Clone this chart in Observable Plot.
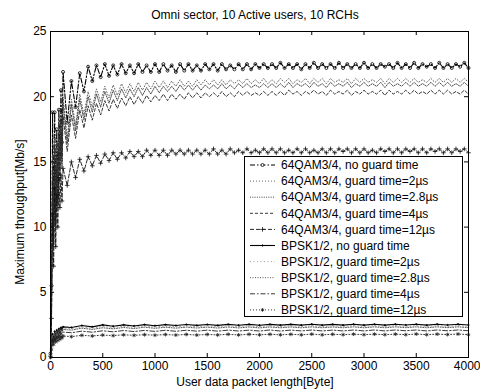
<!DOCTYPE html>
<html><head><meta charset="utf-8">
<script src="https://cdn.jsdelivr.net/npm/d3@7"></script>
<script src="https://cdn.jsdelivr.net/npm/@observablehq/plot@0.6"></script>
<style>
body{margin:0;background:#fff;}
#wrap{position:relative;width:480px;height:391px;font-family:"Liberation Sans",Arial,sans-serif;color:#000;overflow:hidden;}
#wrap svg{position:absolute;left:0;top:0;}
.t{position:absolute;white-space:nowrap;font-size:12px;line-height:1;}
</style></head><body><div id="wrap"></div>
<script>
const title = "Omni sector, 10 Active users, 10 RCHs";
const xLabel = "User data packet length[Byte]";
const yLabel = "Maximum throughput[Mb/s]";
const xTicks = [0,500,1000,1500,2000,2500,3000,3500,4000];
const yTicks = [0,5,10,15,20,25];

const xQ = [0,10,20,30,40,50,60,70,80,90,100,110,120,
160,200,240,280,320,360,400,440,480,520,
560,600,640,680,720,760,800,840,880,920,
960,1000,1040,1080,1120,1160,1200,1240,1280,1320,
1360,1400,1440,1480,1520,1560,1600,1640,1680,1720,
1760,1800,1840,1880,1920,1960,2000,2040,2080,2120,
2160,2200,2240,2280,2320,2360,2400,2440,2480,2520,
2560,2600,2640,2680,2720,2760,2800,2840,2880,2920,
2960,3000,3040,3080,3120,3160,3200,3240,3280,3320,
3360,3400,3440,3480,3520,3560,3600,3640,3680,3720,
3760,3800,3840,3880,3920,3960,4000];

const q0 = [0.3,5.5,18.8,10.5,18.8,12.0,17.5,13.5,19.0,15.5,20.5,16.5,21.9,
18.0,21.2,19.2,21.8,20.4,22.3,21.2,22.4,21.5,22.5,
21.6,22.4,21.7,22.5,21.8,22.4,21.8,22.5,21.9,22.4,
21.9,22.5,21.9,22.5,22.0,22.4,21.9,22.5,22.0,22.5,
22.0,22.4,22.0,22.5,22.1,22.5,22.0,22.5,22.1,22.4,
22.1,22.5,22.1,22.5,22.1,22.5,22.2,22.5,22.2,22.5,
22.2,22.6,22.2,22.5,22.2,22.5,22.1,22.5,22.2,22.6,
22.2,22.5,22.2,22.5,22.2,22.6,22.2,22.5,22.2,22.5,
22.2,22.6,22.2,22.5,22.2,22.5,22.3,22.5,22.2,22.6,
22.2,22.5,22.2,22.6,22.2,22.5,22.3,22.5,22.2,22.6,
22.2,22.5,22.2,22.5,22.3,22.6,22.2];

const q2 = [0.2,4.5,15.5,9.5,17.0,11.0,16.5,12.5,18.0,14.5,19.0,15.5,20.0,
16.8,19.8,17.8,20.2,18.6,20.4,19.2,20.6,19.6,20.8,
19.9,20.9,20.1,21.0,20.3,21.0,20.4,21.1,20.5,21.1,
20.6,21.2,20.7,21.2,20.7,21.2,20.8,21.3,20.8,21.2,
20.8,21.3,20.9,21.3,20.9,21.3,20.9,21.3,20.9,21.3,
21.0,21.3,21.0,21.4,21.0,21.3,21.0,21.4,21.0,21.3,
21.0,21.4,21.1,21.4,21.0,21.3,21.1,21.4,21.0,21.4,
21.1,21.4,21.0,21.4,21.1,21.3,21.1,21.4,21.0,21.4,
21.1,21.4,21.1,21.3,21.1,21.4,21.0,21.4,21.1,21.4,
21.1,21.4,21.1,21.4,21.1,21.3,21.1,21.4,21.1,21.4,
21.1,21.4,21.1,21.4,21.1,21.4,21.1];

const q28 = [0.2,4.0,14.5,9.0,16.0,10.5,15.5,12.0,17.0,14.0,18.2,15.0,19.5,
16.4,19.4,17.4,19.8,18.2,20.0,18.8,20.2,19.2,20.4,
19.5,20.5,19.7,20.6,19.9,20.6,20.0,20.7,20.1,20.7,
20.2,20.8,20.3,20.8,20.4,20.8,20.4,20.9,20.5,20.9,
20.5,20.9,20.5,20.9,20.6,20.9,20.6,21.0,20.6,20.9,
20.6,21.0,20.7,21.0,20.7,20.9,20.7,21.0,20.7,21.0,
20.7,21.0,20.7,21.1,20.7,21.0,20.8,21.0,20.7,21.1,
20.8,21.0,20.7,21.1,20.8,21.0,20.8,21.1,20.7,21.0,
20.8,21.1,20.8,21.0,20.8,21.1,20.7,21.1,20.8,21.0,
20.8,21.1,20.8,21.1,20.8,21.0,20.8,21.1,20.8,21.1,
20.8,21.1,20.8,21.0,20.8,21.1,20.8];

const q4 = [0.1,3.5,13.5,8.5,15.0,10.0,14.5,11.5,16.0,13.5,17.2,14.5,18.5,
15.8,18.6,16.8,19.0,17.6,19.3,18.2,19.5,18.6,19.7,
18.9,19.8,19.1,19.9,19.3,20.0,19.4,20.0,19.5,20.1,
19.6,20.1,19.7,20.2,19.7,20.2,19.8,20.2,19.8,20.3,
19.9,20.3,19.9,20.3,20.0,20.3,20.0,20.4,20.0,20.3,
20.0,20.4,20.1,20.4,20.1,20.3,20.1,20.4,20.1,20.4,
20.1,20.4,20.1,20.5,20.2,20.4,20.1,20.4,20.2,20.5,
20.2,20.4,20.1,20.5,20.2,20.4,20.2,20.5,20.1,20.4,
20.2,20.5,20.2,20.4,20.2,20.5,20.1,20.5,20.2,20.4,
20.2,20.5,20.2,20.5,20.2,20.4,20.2,20.5,20.2,20.5,
20.2,20.5,20.2,20.4,20.2,20.5,20.2];

const q12 = [0.1,3.0,11.0,7.0,13.0,8.5,12.5,10.0,13.8,11.5,14.0,12.0,14.5,
13.2,15.0,13.8,15.2,14.3,15.4,14.7,15.5,14.9,15.6,
15.1,15.7,15.2,15.7,15.3,15.8,15.4,15.8,15.4,15.9,
15.5,15.9,15.5,15.9,15.5,15.9,15.6,15.9,15.6,15.9,
15.6,15.9,15.6,15.9,15.6,16.0,15.6,15.9,15.6,16.0,
15.7,15.9,15.7,16.0,15.7,15.9,15.7,16.0,15.7,16.0,
15.7,16.0,15.7,15.9,15.7,16.0,15.7,16.0,15.7,15.9,
15.7,16.0,15.7,16.0,15.7,16.0,15.8,16.0,15.7,16.0,
15.7,16.0,15.7,15.9,15.7,16.0,15.8,16.0,15.7,16.0,
15.7,16.0,15.8,16.0,15.7,16.0,15.7,16.0,15.8,16.0,
15.7,16.0,15.7,16.0,15.8,16.0,15.7];

const xB = [0,10,20,30,40,50,60,70,80,90,100,110,120,
200,300,400,500,600,700,800,900,1000,1100,
1200,1300,1400,1500,1600,1700,1800,1900,2000,2100,
2200,2300,2400,2500,2600,2700,2800,2900,3000,3100,
3200,3300,3400,3500,3600,3700,3800,3900,4000];

const b0 = [0.0,0.9,1.8,1.3,2.0,1.6,2.1,1.8,2.2,1.9,2.3,2.1,2.35,
2.3,2.45,2.35,2.5,2.4,2.5,2.42,2.52,2.44,2.52,
2.45,2.53,2.46,2.53,2.46,2.54,2.47,2.54,2.47,2.54,
2.48,2.54,2.48,2.55,2.48,2.54,2.48,2.55,2.48,2.55,
2.48,2.55,2.49,2.55,2.48,2.55,2.49,2.55,2.49];

const b2 = [0.0,0.8,1.7,1.2,1.9,1.5,2.0,1.7,2.1,1.8,2.2,2.0,2.25,
2.2,2.35,2.25,2.38,2.3,2.4,2.32,2.42,2.34,2.42,
2.35,2.43,2.36,2.43,2.36,2.44,2.37,2.44,2.37,2.44,
2.38,2.44,2.38,2.45,2.38,2.44,2.38,2.45,2.38,2.45,
2.38,2.45,2.39,2.45,2.38,2.45,2.39,2.45,2.39];

const b28 = [0.0,0.8,1.6,1.2,1.8,1.4,1.9,1.6,2.0,1.7,2.1,1.9,2.15,
2.1,2.25,2.15,2.28,2.2,2.3,2.22,2.32,2.24,2.32,
2.25,2.33,2.26,2.33,2.26,2.34,2.27,2.34,2.27,2.34,
2.28,2.34,2.28,2.35,2.28,2.34,2.28,2.35,2.28,2.35,
2.28,2.35,2.29,2.35,2.28,2.35,2.29,2.35,2.29];

const b4 = [0.0,0.7,1.5,1.1,1.6,1.3,1.7,1.5,1.8,1.6,1.9,1.75,1.95,
1.9,2.02,1.94,2.05,1.97,2.07,1.99,2.08,2.0,2.09,
2.01,2.09,2.02,2.1,2.02,2.1,2.03,2.1,2.03,2.11,
2.03,2.1,2.04,2.11,2.04,2.1,2.04,2.11,2.04,2.11,
2.04,2.11,2.05,2.11,2.04,2.11,2.05,2.11,2.05];

const b12 = [0.0,0.6,1.3,1.0,1.4,1.2,1.5,1.3,1.6,1.4,1.6,1.5,1.65,
1.6,1.7,1.65,1.72,1.68,1.74,1.7,1.75,1.71,1.76,
1.72,1.77,1.72,1.77,1.73,1.78,1.73,1.78,1.74,1.78,
1.74,1.78,1.74,1.79,1.74,1.78,1.75,1.79,1.75,1.79,
1.75,1.79,1.75,1.8,1.75,1.79,1.76,1.8,1.75];

const names = [
 "64QAM3/4, no guard time","64QAM3/4, guard time=2µs","64QAM3/4, guard time=2.8µs",
 "64QAM3/4, guard time=4µs","64QAM3/4, guard time=12µs",
 "BPSK1/2, no guard time","BPSK1/2, guard time=2µs","BPSK1/2, guard time=2.8µs",
 "BPSK1/2, guard time=4µs","BPSK1/2, guard time=12µs"];

const xs = [xQ,xQ,xQ,xQ,xQ,xB,xB,xB,xB,xB];
const ys = [q0,q2,q28,q4,q12,b0,b2,b28,b4,b12];
const styles = [
 {dash:"5,2,1.5,2", w:1.1, c:"#000", sym:"circle", r:1.5},
 {dash:"1,2", w:0.9, c:"#555"},
 {dash:"1,1.3", w:0.9, c:"#333"},
 {dash:"3,2", w:0.9, c:"#222"},
 {dash:"4,2", w:0.9, c:"#111", sym:"plus", r:1.6},
 {dash:null, w:1.1, c:"#000", sym:"circle", r:0.7, fill:"#000"},
 {dash:"1,2.5", w:0.8, c:"#888"},
 {dash:"1,1.5", w:0.9, c:"#444"},
 {dash:"5,2,1.5,2", w:0.9, c:"#222"},
 {dash:"1,2", w:0.9, c:"#222", sym:"asterisk", r:1.8}
];

const rows = [];
ys.forEach((arr,i)=>arr.forEach((v,j)=>rows.push({k:i, x:xs[i][j], y:v})));

const marks = [];
styles.forEach((s,i)=>{
  const d = rows.filter(r=>r.k===i);
  marks.push(Plot.line(d,{x:"x",y:"y",stroke:s.c,strokeWidth:s.w,strokeDasharray:s.dash||undefined}));
  if (s.sym) marks.push(Plot.dot(d,{x:"x",y:"y",symbol:s.sym,r:s.r,stroke:s.c,strokeWidth:0.8,fill:s.fill||"none"}));
});

const W=480,H=391,mL=50,mR=12,mT=31,mB=34;
const fw=W-mL-mR, fh=H-mT-mB;
const lastTick = xTicks.slice(-1);
const innerTicks = xTicks.slice(0,-1);
const plot = Plot.plot({
  width:W,height:H,marginLeft:mL,marginRight:mR,marginTop:mT,marginBottom:mB,
  style:{fontFamily:"Liberation Sans, Arial, sans-serif",fontSize:"12px",color:"#000",background:"transparent",overflow:"visible"},
  x:{domain:[0,4000]},
  y:{domain:[0,25]},
  marks:[
    ...marks,
    Plot.frame({stroke:"#000",strokeWidth:1}),
    Plot.ruleX(xTicks,{insetTop:fh-4,stroke:"#000"}),
    Plot.ruleX(xTicks,{insetBottom:fh-4,stroke:"#000"}),
    Plot.ruleY(yTicks,{insetRight:fw-4,stroke:"#000"}),
    Plot.ruleY(yTicks,{insetLeft:fw-4,stroke:"#000"}),
    Plot.axisX(innerTicks,{tickSize:0,tickPadding:4,label:null,fill:"#000",tickFormat:d=>String(d)}),
    Plot.axisX(lastTick,{tickSize:0,tickPadding:4,label:null,fill:"#000",textAnchor:"end",dx:12,tickFormat:d=>String(d)}),
    Plot.axisY(yTicks,{tickSize:0,tickPadding:4,label:null,fill:"#000",tickFormat:d=>String(d)})
  ]
});
const wrap = document.getElementById("wrap");
wrap.appendChild(plot);

function addText(txt, css){ const e=document.createElement("div"); e.className="t"; e.textContent=txt; Object.assign(e.style,css); wrap.appendChild(e); return e;}
addText(title,{left:"255px",top:"9px",transform:"translateX(-50%)"});
addText(xLabel,{left:"255px",top:"376px",transform:"translateX(-50%)"});
addText(yLabel,{left:"20px",top:"212px",transform:"translate(-50%,-50%) rotate(-90deg)"});

// legend
const ns="http://www.w3.org/2000/svg";
const lg=document.createElementNS(ns,"svg");
lg.setAttribute("width",220); lg.setAttribute("height",162);
lg.style.left="244px"; lg.style.top="156px";
const bg=document.createElementNS(ns,"rect");
bg.setAttribute("x",0.5);bg.setAttribute("y",0.5);bg.setAttribute("width",218);bg.setAttribute("height",160);
bg.setAttribute("fill","#fff");bg.setAttribute("stroke","#000");bg.setAttribute("stroke-width",1);
lg.appendChild(bg);
const symPath={circle:d3.symbolCircle,plus:d3.symbolPlus,asterisk:d3.symbolAsterisk};
names.forEach((n,i)=>{
  const s=styles[i]; const cy=9+i*16.1;
  const ln=document.createElementNS(ns,"line");
  ln.setAttribute("x1",6);ln.setAttribute("x2",31);ln.setAttribute("y1",cy);ln.setAttribute("y2",cy);
  ln.setAttribute("stroke",s.c);ln.setAttribute("stroke-width",s.w);
  if(s.dash) ln.setAttribute("stroke-dasharray",s.dash);
  lg.appendChild(ln);
  if(s.sym){
    const p=document.createElementNS(ns,"path");
    p.setAttribute("d",d3.symbol(symPath[s.sym],Math.PI*s.r*s.r)());
    p.setAttribute("transform",`translate(18.5,${cy})`);
    p.setAttribute("stroke",s.c);p.setAttribute("stroke-width",0.8);p.setAttribute("fill",s.fill||"#fff");
    lg.appendChild(p);
  }
  const t=document.createElementNS(ns,"text");
  t.setAttribute("x",37);t.setAttribute("y",cy);t.setAttribute("dy","0.35em");
  t.setAttribute("font-size","12px");t.setAttribute("font-family","Liberation Sans, Arial, sans-serif");
  t.textContent=n; lg.appendChild(t);
});
wrap.appendChild(lg);
</script>
</body></html>
